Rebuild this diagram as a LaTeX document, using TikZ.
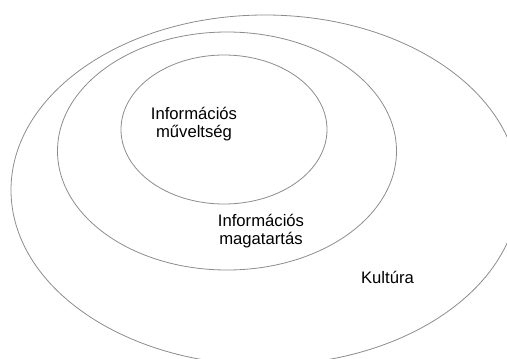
\documentclass[tikz,border=0pt]{standalone}
\usepackage{fontspec}
\setmainfont{Liberation Sans}
\begin{document}
\begin{tikzpicture}[x=0.75pt,y=-0.75pt,
  ring/.style={draw={rgb,255:red,140;green,140;blue,140}, line width=0.6pt},
  lbl/.style={font=\fontsize{12.5}{13.5}\selectfont, align=center, anchor=base, inner sep=0pt, text=black}]
\useasboundingbox (0,0) rectangle (507,358);
\clip (0,0) rectangle (507,358);
\draw[ring] (265,190) ellipse [x radius=254, y radius=175];
\draw[ring] (227,151) ellipse [x radius=169.5, y radius=119];
\draw[ring] (224,129.5) ellipse [x radius=103, y radius=74.5];
\node[lbl] (inner) at (194,137) {Információs\\műveltség};
\node[lbl] (middle) at (261,244) {Információs\\magatartás};
\node[lbl] (outer) at (387.5,283) {Kultúra};
\end{tikzpicture}
\end{document}
